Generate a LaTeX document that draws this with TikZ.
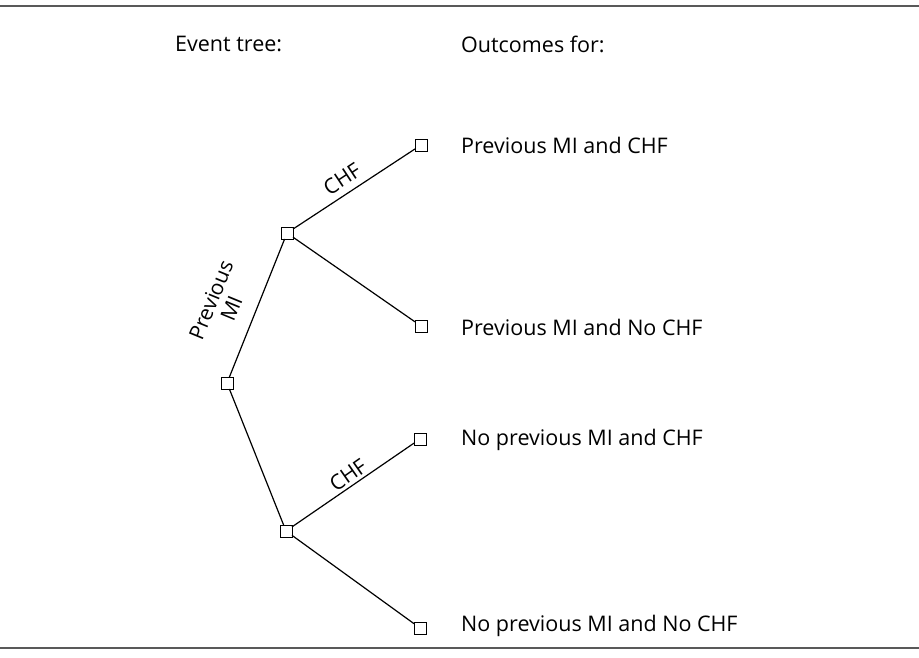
\documentclass[tikz,border=0pt]{standalone}
\usepackage{fontspec}
\setmainfont{Open Sans}
\begin{document}
\begin{tikzpicture}[x=1pt,y=-1pt,
  box/.style={draw=black,line width=0.9pt,fill=white,minimum size=12pt,inner sep=0pt,outer sep=0pt},
  branch/.style={draw=black,line width=1.2pt},
  rule/.style={draw=black!65,line width=2pt},
  txt/.style={font=\fontsize{21.5}{25}\selectfont,inner sep=0pt,anchor=west},
  lbl/.style={font=\fontsize{21}{22}\selectfont,inner sep=0pt,align=center}]
\useasboundingbox (0,0) rectangle (919,657);
% horizontal rules at top and bottom
\coordinate (tl) at (0,6);
\coordinate (tr) at (919,6);
\coordinate (bl) at (0,648);
\coordinate (br) at (919,648);
\draw[rule] (tl) -- (tr);
\draw[rule] (bl) -- (br);
% column headings
\node[txt] (h1) at (175,44) {Event tree:};
\node[txt] (h2) at (461,44) {Outcomes for:};
% tree nodes
\node[box] (root) at (227,383) {};
\node[box] (mi) at (287,233) {};
\node[box] (nomi) at (286,531) {};
\node[box] (l1) at (421,145) {};
\node[box] (l2) at (421,326) {};
\node[box] (l3) at (420,439) {};
\node[box] (l4) at (420,628) {};
% branches
\draw[branch] (root) -- (mi);
\draw[branch] (root) -- (nomi);
\draw[branch] (mi) -- (l1);
\draw[branch] (mi) -- (l2);
\draw[branch] (nomi) -- (l3);
\draw[branch] (nomi) -- (l4);
% branch labels
\node[lbl,rotate=67.7] (pmi) at (221,304) {Previous\\MI};
\node[lbl,rotate=33.5] (c1) at (342,179) {CHF};
\node[lbl,rotate=35] (c2) at (348,475) {CHF};
% outcomes
\node[txt] (o1) at (461,145) {Previous MI and CHF};
\node[txt] (o2) at (461,327) {Previous MI and No CHF};
\node[txt] (o3) at (461,440) {No previous MI and CHF};
\node[txt] (o4) at (461,626) {No previous MI and No CHF};
\end{tikzpicture}
\end{document}
